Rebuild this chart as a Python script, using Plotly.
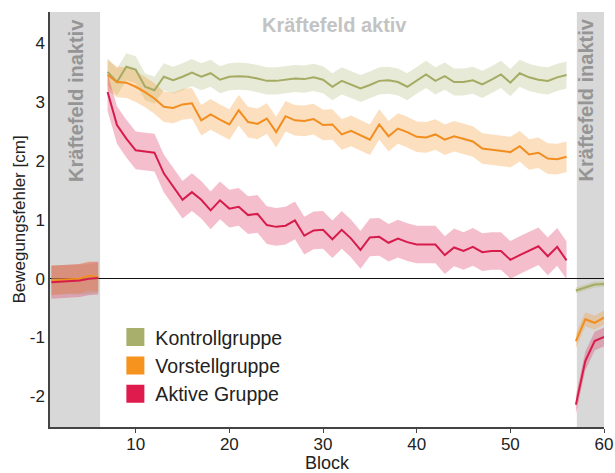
import plotly.graph_objects as go

# ---------------- data ----------------
blocks_pre = [1, 2, 3, 4, 5, 6]
blocks_main = list(range(7, 57))
blocks_post = [57, 58, 59, 60]

kontroll_pre = [-0.02, -0.02, -0.01, -0.02, 0.0, 0.01]
vorstell_pre = [-0.03, -0.02, 0.0, 0.0, 0.05, 0.03]
aktive_pre = [-0.06, -0.05, -0.04, -0.03, 0.0, 0.01]

kontroll_main = [3.51, 3.34, 3.60, 3.55, 3.26, 3.20, 3.43, 3.37, 3.43, 3.50,
                 3.43, 3.49, 3.38, 3.43, 3.44, 3.43, 3.40, 3.36, 3.36, 3.38,
                 3.40, 3.39, 3.42, 3.38, 3.26, 3.36, 3.30, 3.23, 3.29, 3.36,
                 3.37, 3.34, 3.26, 3.37, 3.47, 3.36, 3.44, 3.34, 3.34, 3.37,
                 3.30, 3.38, 3.47, 3.33, 3.49, 3.42, 3.38, 3.36, 3.42, 3.46]
vorstell_main = [3.46, 3.34, 3.33, 3.26, 3.17, 3.06, 2.92, 2.90, 2.96, 2.98,
                 2.69, 2.79, 2.70, 2.62, 2.86, 2.66, 2.63, 2.72, 2.49, 2.76,
                 2.69, 2.68, 2.71, 2.61, 2.62, 2.45, 2.51, 2.44, 2.36, 2.62,
                 2.42, 2.55, 2.49, 2.41, 2.40, 2.45, 2.36, 2.42, 2.38, 2.33,
                 2.21, 2.19, 2.17, 2.15, 2.25, 2.11, 2.14, 2.04, 2.03, 2.07]
aktive_main = [3.17, 2.61, 2.38, 2.18, 2.16, 2.14, 1.79, 1.56, 1.34, 1.47,
               1.34, 1.16, 1.33, 1.19, 1.22, 1.08, 1.10, 0.91, 0.88, 0.90,
               0.99, 0.73, 0.82, 0.83, 0.67, 0.83, 0.68, 0.49, 0.70, 0.71,
               0.61, 0.68, 0.62, 0.58, 0.58, 0.58, 0.40, 0.53, 0.47, 0.54,
               0.45, 0.47, 0.47, 0.32, 0.40, 0.48, 0.55, 0.38, 0.54, 0.31]

kontroll_post = [-0.20, -0.15, -0.10, -0.09]
vorstell_post = [-1.06, -0.69, -0.75, -0.66]
aktive_post = [-2.14, -1.40, -1.06, -0.99]

# half-widths of the shaded bands (per group, per phase)
kontroll_sem = [0.25, 0.23, 0.05]
vorstell_sem = [0.25, 0.26, 0.12]
aktive_sem = [0.28, 0.32, 0.16]

group_names = ["Kontrollgruppe", "Vorstellgruppe", "Aktive Gruppe"]
line_colors = ["#a5ab63", "#f28d1f", "#d71c4c"]
band_colors = ["rgba(170,178,108,0.28)", "rgba(246,150,40,0.30)", "rgba(218,40,85,0.30)"]
legend_colors = ["#a8ae6b", "#f6921e", "#df1b4d"]

xtick_vals = [10, 20, 30, 40, 50, 60]
ytick_vals = [-2, -1, 0, 1, 2, 3, 4]
ytick_text = ["-2", "-1", "0", "1", "2", "3", "4"]

# ---------------- figure ----------------
fig = go.Figure()

groups = [
    (kontroll_pre, kontroll_main, kontroll_post, kontroll_sem),
    (vorstell_pre, vorstell_main, vorstell_post, vorstell_sem),
    (aktive_pre, aktive_main, aktive_post, aktive_sem),
]
segments = [blocks_pre, blocks_main, blocks_post]

# bands first
for gi, (pre, main, post, sem) in enumerate(groups):
    for si, (xs, ys) in enumerate(zip(segments, (pre, main, post))):
        up = [v + sem[si] for v in ys]
        lo = [v - sem[si] for v in ys]
        fig.add_trace(go.Scatter(
            x=list(xs) + list(xs)[::-1], y=up + lo[::-1],
            fill="toself", fillcolor=band_colors[gi],
            line=dict(width=0), mode="lines",
            hoverinfo="skip", showlegend=False))

# lines
for gi, (pre, main, post, sem) in enumerate(groups):
    for xs, ys in zip(segments, (pre, main, post)):
        fig.add_trace(go.Scatter(
            x=xs, y=ys, mode="lines",
            line=dict(color=line_colors[gi], width=2),
            showlegend=False))

# legend entries
for gi, name in enumerate(group_names):
    fig.add_trace(go.Scatter(
        x=[None], y=[None], mode="markers", name=name,
        legendgroup=name,
        marker=dict(symbol="square", size=16, color=legend_colors[gi],
                    line=dict(color=legend_colors[gi], width=2))))

gray = "#d8d8d8"
fig.add_shape(type="rect", xref="x", yref="paper", x0=0.85, x1=6.2, y0=0, y1=1,
              fillcolor=gray, line=dict(width=0), layer="below")
fig.add_shape(type="rect", xref="x", yref="paper", x0=57.1, x1=60, y0=0, y1=1,
              fillcolor=gray, line=dict(width=0), layer="below")

label_font = dict(family="Liberation Sans, Arial, sans-serif", size=20, color="#959595")
fig.add_annotation(x=3.6, y=4.45, text="<b>Kräftefeld inaktiv</b>", textangle=-90,
                   showarrow=False, xanchor="center", yanchor="top", font=label_font)
fig.add_annotation(x=58.1, y=4.45, text="<b>Kräftefeld inaktiv</b>", textangle=-90,
                   showarrow=False, xanchor="center", yanchor="top", font=label_font)
fig.add_annotation(x=31.2, y=4.31, text="<b>Kräftefeld aktiv</b>",
                   showarrow=False, xanchor="center", yanchor="middle",
                   font=dict(family="Liberation Sans, Arial, sans-serif", size=20, color="#c3c3c3"))

fig.update_layout(
    width=615, height=473,
    margin=dict(l=50, r=11, t=12, b=46),
    paper_bgcolor="white", plot_bgcolor="white",
    font=dict(family="Liberation Sans, Arial, sans-serif", size=17, color="#222222"),
    showlegend=True,
    legend=dict(x=0.118, y=0.263, xanchor="left", yanchor="top",
                bgcolor="rgba(0,0,0,0)", font=dict(size=19.5, color="#222222"),
                traceorder="grouped", tracegroupgap=0),
    xaxis=dict(range=[0.85, 60], tickvals=xtick_vals, showgrid=False, zeroline=False,
               showline=True, linecolor="#444444", linewidth=1.5,
               ticks="outside", ticklen=4, tickcolor="#444444", automargin=False,
               ticklabelstandoff=-3,
               title=dict(text="Block", font=dict(size=18), standoff=0)),
    yaxis=dict(range=[-2.52, 4.53], tickvals=ytick_vals, ticktext=ytick_text, showgrid=False,
               zeroline=True, zerolinecolor="#111111", zerolinewidth=1,
               showline=True, linecolor="#444444", linewidth=1.5, automargin=False,
               ticks="", title=dict(text="Bewegungsfehler [cm]", font=dict(size=17), standoff=0)),
)

fig.write_html("out.html", config={"displayModeBar": False},
               post_script="document.body.style.margin='0';document.body.style.overflow='hidden';")
